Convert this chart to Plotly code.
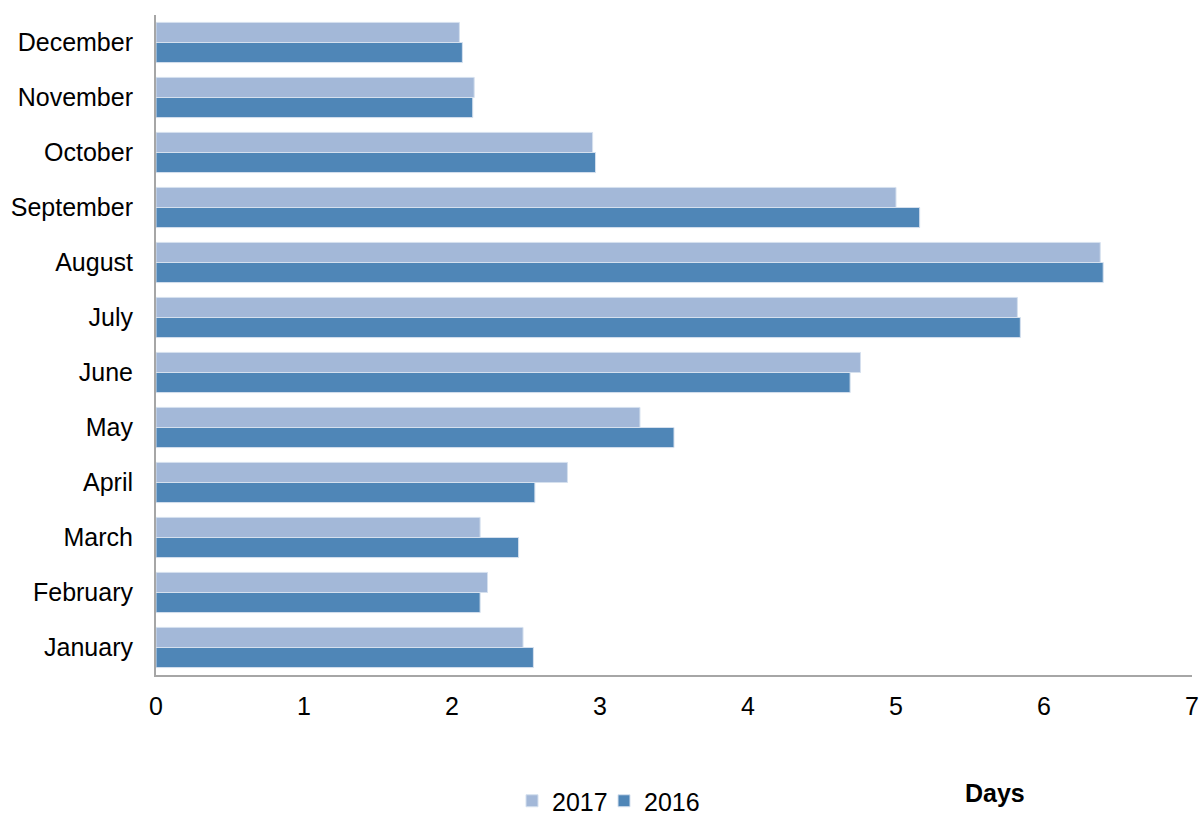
import plotly.graph_objects as go

months = ["January", "February", "March", "April", "May", "June", "July",
          "August", "September", "October", "November", "December"]
values_2017 = [2.48, 2.24, 2.19, 2.78, 3.27, 4.76, 5.82, 6.38, 5.00, 2.95, 2.15, 2.05]
values_2016 = [2.55, 2.19, 2.45, 2.56, 3.50, 4.69, 5.84, 6.40, 5.16, 2.97, 2.14, 2.07]
x_ticks = [0, 1, 2, 3, 4, 5, 6, 7]

c2017 = "#A3B8D8"
c2016 = "#4F86B7"

L, R, T, B = 156, 11, 15, 139
W, H = 1203, 814
plot_h = H - T - B
plot_w = W - L - R

fig = go.Figure()
fig.add_trace(go.Bar(y=months, x=values_2016, orientation="h", name="2016",
                     legend="legend2",
                     marker=dict(color=c2016, line=dict(color="#D5E0EE", width=1))))
fig.add_trace(go.Bar(y=months, x=values_2017, orientation="h", name="2017",
                     legend="legend",
                     marker=dict(color=c2017, line=dict(color="#D5E0EE", width=1))))

leg_y = (H - B - 801) / plot_h
leg_common = dict(orientation="h", y=leg_y, xanchor="left", yanchor="middle",
                  font=dict(size=25), itemwidth=30, bgcolor="rgba(0,0,0,0)")

fig.update_layout(
    width=W, height=H,
    margin=dict(l=L, r=R, t=T, b=B, autoexpand=False),
    paper_bgcolor="white", plot_bgcolor="white",
    barmode="group", bargap=0.27, bargroupgap=0,
    font=dict(family="Liberation Sans, Arial, sans-serif", size=25, color="#000000"),
    showlegend=True,
    legend=dict(x=(512 - L) / plot_w, **leg_common),
    legend2=dict(x=(604 - L) / plot_w, **leg_common),
    xaxis=dict(range=[0, 7], tickvals=x_ticks, showgrid=False, zeroline=False,
               showline=True, linecolor="#A6A6A6", linewidth=2,
               ticks="", tickfont=dict(size=25), ticklabelstandoff=8),
    yaxis=dict(showgrid=False, zeroline=False, showline=True, linecolor="#A6A6A6",
               linewidth=2, ticks="", tickfont=dict(size=25), ticklabelstandoff=16),
    annotations=[dict(text="<b>Days</b>", xref="paper", yref="paper",
                      x=(995 - L) / plot_w, y=(H - B - 793) / plot_h,
                      xanchor="center", yanchor="middle", showarrow=False,
                      font=dict(size=25))],
)

fig.write_html("out.html", config={"displayModeBar": False},
               post_script="document.body.style.margin='0px';document.body.style.overflow='hidden';")
